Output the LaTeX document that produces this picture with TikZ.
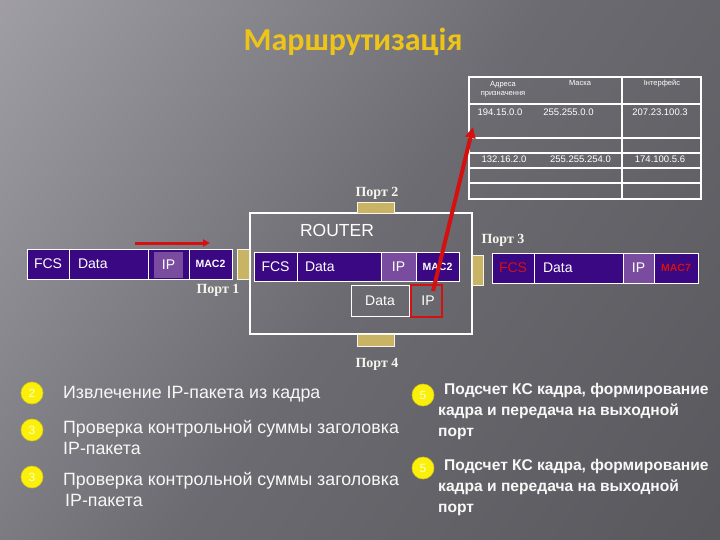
\documentclass[tikz,border=0pt]{standalone}
\usepackage{fontspec}
\setmainfont{Liberation Sans}
\newfontfamily\titlefont{Carlito}
\newfontfamily\portfont{Liberation Serif}
\usetikzlibrary{arrows.meta,positioning}

\definecolor{bgA}{RGB}{182,180,186}
\definecolor{bgB}{RGB}{145,144,150}
\definecolor{bgC}{RGB}{108,107,113}
\definecolor{bgD}{RGB}{80,79,84}
\definecolor{framepurple}{RGB}{58,8,130}
\definecolor{iplight}{RGB}{122,76,160}
\definecolor{porttan}{RGB}{200,180,100}
\definecolor{titlegold}{RGB}{238,196,24}
\definecolor{arrowred}{RGB}{212,16,16}
\definecolor{bulletyellow}{RGB}{250,240,10}
\definecolor{bulletedge}{RGB}{220,200,20}
\definecolor{bullettext}{RGB}{255,255,200}
\definecolor{portwhite}{RGB}{245,245,235}
\definecolor{slidetext}{RGB}{248,248,248}

\pgfdeclarehorizontalshading{slidebg}{100bp}{color(0bp)=(bgA); color(25bp)=(bgB); color(50bp)=(bgC); color(100bp)=(bgD)}

\tikzset{
  cell/.style={draw=white, line width=0.8pt, fill=framepurple, text=white,
    minimum height=30, inner sep=0pt, font=\fontsize{14}{14}\selectfont},
  maccell/.style={cell, font=\bfseries\fontsize{10.5}{11}\selectfont},
  porttab/.style={draw=white!85!porttan, line width=0.6pt, fill=porttan, inner sep=0pt},
  portname/.style={font=\portfont\bfseries\fontsize{14}{14}\selectfont, text=portwhite, inner sep=0pt},
  tabline/.style={draw=white, line width=1.2pt},
  tabhead/.style={font=\fontsize{7.5}{9}\selectfont, text=white, inner sep=0pt, align=center},
  tabval/.style={font=\fontsize{9.5}{10}\selectfont, text=white, inner sep=0pt},
  bullet/.style={circle, fill=bulletyellow, draw=bulletedge, line width=0.6pt,
    minimum size=22, inner sep=0pt, text=bullettext, font=\fontsize{12}{12}\selectfont},
  steptext/.style={anchor=west, align=left, text=slidetext, inner sep=0pt,
    font=\fontsize{17.8}{21}\selectfont},
  acttext/.style={anchor=west, align=left, text=slidetext, inner sep=0pt,
    font=\bfseries\fontsize{15.6}{21}\selectfont},
  redarrow/.style={draw=arrowred, line width=4pt, -{Triangle[length=11pt,width=10pt]}}
}

\begin{document}
\begin{tikzpicture}[x=1pt,y=-1pt]
% slide background
\useasboundingbox (0,0) rectangle (720,540);
\shade[shading=slidebg, shading angle=-35] (0,0) rectangle (720,540);

% title
\node[font=\titlefont\bfseries\fontsize{32}{32}\selectfont, text=titlegold] (title) at (353,42) {Маршрутизація};

% routing table
\draw[tabline] (469,77) rectangle (701,199);
\foreach \y in {104,138,153,168,183}
  \draw[tabline] (469,\y) -- (701,\y);
\draw[tabline] (622,77) -- (622,199);
\node[tabhead] (hdst) at (503,89) {Адреса\\призначення};
\node[tabhead] (hmask) at (580,83) {Маска};
\node[tabhead] (hif) at (662,83) {Інтерфейс};
\node[tabval] (dst1) at (500,112) {194.15.0.0};
\node[tabval] (mask1) at (568.5,112) {255.255.0.0};
\node[tabval] (if1) at (660,112) {207.23.100.3};
\node[tabval] (dst2) at (504,159) {132.16.2.0};
\node[tabval] (mask2) at (580.5,159) {255.255.254.0};
\node[tabval] (if2) at (660,159) {174.100.5.6};

% router with its four ports
\node[draw=white, line width=2pt, minimum width=222, minimum height=121, inner sep=0pt] (router) at (361,273.5) {};
\node[font=\fontsize{17.5}{17.5}\selectfont, text=white, inner sep=0pt] (rname) at (337,230) {ROUTER};
\node[porttab, minimum width=12, minimum height=30] (p1) at (243,264) {};
\node[porttab, minimum width=37, minimum height=11] (p2) at (375.5,207.5) {};
\node[porttab, minimum width=11, minimum height=30] (p3) at (477.5,270) {};
\node[porttab, minimum width=37, minimum height=12] (p4) at (375.5,340) {};
\node[portname] (p1name) at (218,290) {Порт 1};
\node[portname] (p2name) at (377,193) {Порт 2};
\node[portname] (p3name) at (503,240) {Порт 3};
\node[portname] (p4name) at (377,364) {Порт 4};

% incoming frame
\node[cell, minimum width=42] (infcs) at (48,264) {FCS};
\node[cell, minimum width=79, text width=61, align=left] (indata) at (108.5,264) {Data};
\node[cell, minimum width=41] (inip) at (168.5,264) {};
\node[fill=iplight, text=white, minimum width=29, minimum height=26, inner sep=0pt,
  font=\fontsize{14}{14}\selectfont] (iniptag) at (168.5,265) {IP};
\node[maccell, minimum width=43] (inmac) at (210.5,264) {MAC2};
\coordinate (inarrowA) at (135,243);
\coordinate (inarrowB) at (210,243);
\draw[draw=arrowred, line width=3pt, -{Triangle[length=7pt,width=7pt]}] (inarrowA) -- (inarrowB);

% frame inside the router
\node[cell, minimum width=43, minimum height=29] (rfcs) at (275.5,266.5) {FCS};
\node[cell, minimum width=84, minimum height=29, text width=68, align=left] (rdata) at (339,266.5) {Data};
\node[cell, minimum width=35, minimum height=29, fill=iplight] (rip) at (398.5,266.5) {IP};
\node[maccell, minimum width=43, minimum height=29] (rmac) at (437.5,266.5) {MAC2};
\node[draw=white, line width=0.8pt, minimum width=58, minimum height=31, inner sep=0pt,
  text=white, font=\fontsize{14}{14}\selectfont] (pdata) at (380,300.5) {Data};
\node[draw=arrowred, line width=2pt, minimum width=31, minimum height=32, inner sep=0pt,
  text=white, font=\fontsize{14}{14}\selectfont] (pip) at (426.5,301) {\raisebox{-3pt}{\hspace{3pt}IP}};

% packet looked up in the table
\coordinate (ipgrab) at (433,291);
\coordinate (tabhit) at (473,127);
\draw[redarrow] (ipgrab) -- (tabhit);

% outgoing frame
\node[cell, minimum width=42, text=arrowred] (outfcs) at (513,268) {FCS};
\node[cell, minimum width=89, text width=71, align=left] (outdata) at (578.5,268) {Data};
\node[cell, minimum width=31, fill=iplight] (outip) at (638.5,268) {IP};
\node[maccell, minimum width=44, text=arrowred] (outmac) at (676,268) {MAC7};

% steps
\node[bullet] (b2) at (32,393) {2};
\node[steptext] (s2) at (63,394) {Извлечение IP-пакета из кадра};
\node[bullet] (b3) at (32,430) {3};
\node[steptext] (s3) at (63,437.5) {Проверка контрольной суммы заголовка\\IP-пакета};
\node[bullet] (b3b) at (32,477) {3};
\node[steptext] (s3b) at (63,489) {Проверка контрольной суммы заголовка\\\hspace{2pt}IP-пакета};
\node[bullet] (b5) at (423,395) {5};
\node[acttext] (s5) at (438,411) {\hspace{6pt}Подсчет КС кадра, формирование\\кадра и передача на выходной\\порт};
\node[bullet] (b5b) at (423,468) {5};
\node[acttext] (s5b) at (438,487) {\hspace{6pt}Подсчет КС кадра, формирование\\кадра и передача на выходной\\порт};
\end{tikzpicture}
\end{document}
